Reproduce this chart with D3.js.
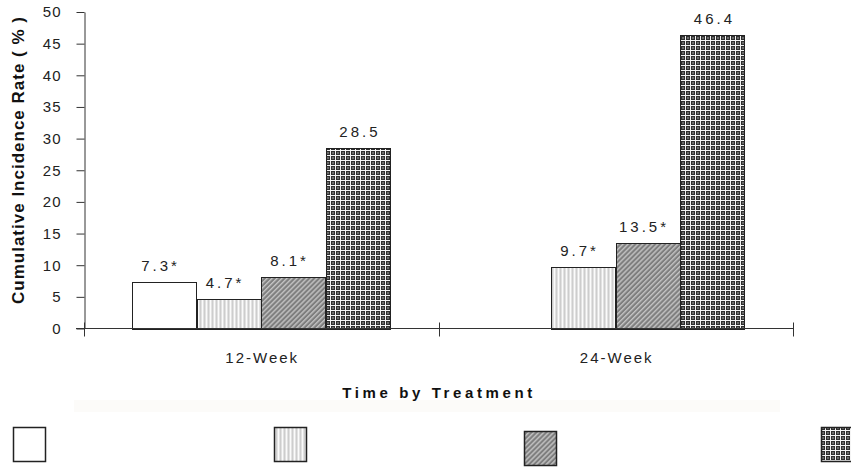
<!DOCTYPE html>
<html>
<head>
<meta charset="utf-8">
<script src="https://cdn.jsdelivr.net/npm/d3@7"></script>
<style>
  html, body { margin: 0; padding: 0; background: #fff; }
  svg { display: block; }
  text { font-family: "Liberation Sans", Arial, sans-serif; }
</style>
</head>
<body>
<svg id="chart" width="851" height="471"></svg>
<script>
// ---- data ----
const categories = ["12-Week", "24-Week"];
const seriesKeys = ["s1", "s2", "s3", "s4"];
const s1Values = [7.3, null];
const s2Values = [4.7, 9.7];
const s3Values = [8.1, 13.5];
const s4Values = [28.5, 46.4];
const s1Labels = ["7.3*", null];
const s2Labels = ["4.7*", "9.7*"];
const s3Labels = ["8.1*", "13.5*"];
const s4Labels = ["28.5", "46.4"];
const yTicks = [0, 5, 10, 15, 20, 25, 30, 35, 40, 45, 50];
const yTitle = "Cumulative Incidence Rate ( % )";
const xTitle = "Time by Treatment";

const seriesValues = { s1: s1Values, s2: s2Values, s3: s3Values, s4: s4Values };
const seriesLabels = { s1: s1Labels, s2: s2Labels, s3: s3Labels, s4: s4Labels };

// ---- layout ----
const svg = d3.select("#chart");
const plotLeft = 84, plotRight = 793, plotTop = 12, plotBase = 328.5;

const defs = svg.append("defs");
// vertical stripes
const pv = defs.append("pattern").attr("id", "pat-s2").attr("patternUnits", "userSpaceOnUse")
  .attr("width", 4).attr("height", 8);
pv.append("rect").attr("width", 4).attr("height", 8).attr("fill", "#e2e2e2");
pv.append("rect").attr("x", 2).attr("width", 1).attr("height", 8).attr("fill", "#fbfbfb");
pv.append("rect").attr("x", 0).attr("width", 1).attr("height", 8).attr("fill", "#cdcdcd");
// diagonal hatch
const pd = defs.append("pattern").attr("id", "pat-s3").attr("patternUnits", "userSpaceOnUse")
  .attr("width", 3.5).attr("height", 8).attr("patternTransform", "rotate(45)");
pd.append("rect").attr("width", 3.5).attr("height", 8).attr("fill", "#7e7e7e");
pd.append("rect").attr("x", 0).attr("width", 1.4).attr("height", 8).attr("fill", "#c4c4c4");
// grid
const pg = defs.append("pattern").attr("id", "pat-s4").attr("patternUnits", "userSpaceOnUse")
  .attr("width", 5).attr("height", 5);
pg.append("rect").attr("width", 5).attr("height", 5).attr("fill", "#f4f4f4");
pg.append("rect").attr("x", 1).attr("y", 1).attr("width", 4).attr("height", 4).attr("fill", "#2e2e2e");
pg.append("rect").attr("x", 2).attr("y", 2).attr("width", 2).attr("height", 2).attr("fill", "#6a6a6a");

const fills = { s1: "#ffffff", s2: "url(#pat-s2)", s3: "url(#pat-s3)", s4: "url(#pat-s4)" };

// faint band under x title
svg.append("rect").attr("x", 74).attr("y", 400).attr("width", 706).attr("height", 12).attr("fill", "#fcfbf9");

const x0 = d3.scaleBand().domain(categories).range([plotLeft, plotRight]).paddingInner(0).paddingOuter(0);
const x1 = d3.scaleBand().domain(seriesKeys).range([0, x0.bandwidth()]).paddingInner(0).paddingOuter(0.75);
const y = d3.scaleLinear().domain([0, 50]).range([plotBase, plotTop]);

// bars
const barData = [];
categories.forEach((c, i) => {
  seriesKeys.forEach(k => {
    const v = seriesValues[k][i];
    if (v != null) barData.push({ cat: c, key: k, value: v, label: seriesLabels[k][i] });
  });
});

svg.append("g").selectAll("rect").data(barData).join("rect")
  .attr("x", d => Math.round(x0(d.cat) + x1(d.key)) + 0.5)
  .attr("y", d => Math.round(y(d.value)) + 0.5)
  .attr("width", d => Math.round(x1.bandwidth()))
  .attr("height", d => Math.round(plotBase) - Math.round(y(d.value)))
  .attr("fill", d => fills[d.key])
  .attr("stroke", "#222").attr("stroke-width", 1);

// value labels
svg.append("g").selectAll("text").data(barData).join("text")
  .attr("x", d => x0(d.cat) + x1(d.key) + x1.bandwidth() / 2 + (d.label.includes("*") ? -4 : 2))
  .attr("y", d => y(d.value) - 11)
  .attr("text-anchor", "middle")
  .attr("font-size", 15).attr("letter-spacing", "3px").attr("fill", "#222")
  .text(d => d.label);

// y axis
const yAxis = d3.axisLeft(y).tickValues(yTicks).tickSize(8).tickSizeOuter(0).tickPadding(15);
const gy = svg.append("g").attr("transform", `translate(${plotLeft + 0.5},0)`).call(yAxis);
gy.select(".domain").attr("stroke", "#333");
gy.selectAll(".tick line").attr("stroke", "#333");
gy.selectAll(".tick text").attr("font-size", 15).attr("fill", "#222")
  .attr("font-family", "'Liberation Sans', Arial, sans-serif").attr("letter-spacing", "1px");

// x axis line + ticks at category boundaries
const gx = svg.append("g");
gx.append("line").attr("x1", plotLeft - 8).attr("x2", plotRight).attr("y1", plotBase).attr("y2", plotBase)
  .attr("stroke", "#333");
const bounds = categories.map(c => x0(c)).concat([x0(categories[categories.length - 1]) + x0.bandwidth()]);
gx.selectAll("line.tk").data(bounds).join("line").attr("class", "tk")
  .attr("x1", d => Math.round(d) + 0.5).attr("x2", d => Math.round(d) + 0.5)
  .attr("y1", plotBase - 6).attr("y2", plotBase + 8).attr("stroke", "#333");
gx.selectAll("text").data(categories).join("text")
  .attr("x", c => x0(c) + x0.bandwidth() / 2 + 1)
  .attr("y", 363)
  .attr("text-anchor", "middle").attr("font-size", 15).attr("letter-spacing", "2px").attr("fill", "#222")
  .text(c => c);

// axis titles
svg.append("text").attr("x", 439).attr("y", 398).attr("text-anchor", "middle")
  .attr("font-size", 15).attr("font-weight", "bold").attr("letter-spacing", "3.6px").attr("fill", "#111")
  .text(xTitle);
svg.append("text").attr("transform", "translate(24,160) rotate(-90)").attr("text-anchor", "middle")
  .attr("font-size", 17).attr("font-weight", "bold").attr("letter-spacing", "1px").attr("fill", "#111")
  .text(yTitle);

// legend (boxes only)
const legendX = d3.scaleOrdinal().domain(seriesKeys).range([13, 274, 524, 821]);
const legendY = d3.scaleOrdinal().domain(seriesKeys).range([427, 427, 431, 427]);
svg.append("g").selectAll("rect").data(seriesKeys).join("rect")
  .attr("x", k => legendX(k) + 0.5).attr("y", k => legendY(k) + 0.5)
  .attr("width", 32).attr("height", 34)
  .attr("fill", k => fills[k]).attr("stroke", "#222").attr("stroke-width", 1.5);
</script>
</body>
</html>
